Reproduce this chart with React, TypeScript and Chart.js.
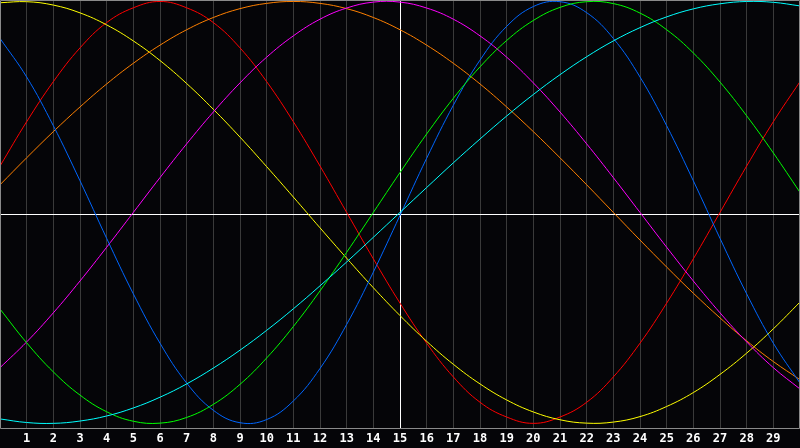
import React, { useEffect, useRef } from "react";
import { Chart, registerables } from "chart.js";

Chart.register(...registerables);

const days = [0, 1, 2, 3, 4, 5, 6, 7, 8, 9, 10, 11, 12, 13, 14, 15, 16, 17, 18, 19, 20, 21, 22, 23, 24, 25, 26, 27, 28, 29, 30];
const tickLabels = ["1", "2", "3", "4", "5", "6", "7", "8", "9", "10", "11", "12", "13", "14", "15", "16", "17", "18", "19", "20", "21", "22", "23", "24", "25", "26", "27", "28", "29"];

const redSeries = [0.22, 0.43, 0.62, 0.78, 0.90, 0.97, 1.00, 0.97, 0.90, 0.78, 0.62, 0.43, 0.22, 0.00, -0.22, -0.43, -0.62, -0.78, -0.90, -0.97, -1.00, -0.97, -0.90, -0.78, -0.62, -0.43, -0.22, 0.00, 0.22, 0.43, 0.62];
const yellowSeries = [0.994, 0.999, 0.983, 0.946, 0.889, 0.813, 0.720, 0.611, 0.489, 0.357, 0.217, 0.073, -0.073, -0.217, -0.357, -0.489, -0.611, -0.720, -0.813, -0.889, -0.946, -0.983, -0.999, -0.994, -0.968, -0.920, -0.854, -0.768, -0.667, -0.552, -0.425];
const orangeSeries = [0.131, 0.259, 0.383, 0.500, 0.609, 0.707, 0.793, 0.866, 0.924, 0.966, 0.991, 1.000, 0.991, 0.966, 0.924, 0.866, 0.793, 0.707, 0.609, 0.500, 0.383, 0.259, 0.131, 0.000, -0.131, -0.259, -0.383, -0.500, -0.609, -0.707, -0.793];
const blueSeries = [0.825, 0.642, 0.411, 0.150, -0.123, -0.386, -0.620, -0.809, -0.938, -0.997, -0.982, -0.894, -0.740, -0.531, -0.283, -0.014, 0.257, 0.508, 0.722, 0.882, 0.976, 0.999, 0.947, 0.825, 0.642, 0.411, 0.150, -0.123, -0.386, -0.620, -0.809];
const greenSeries = [-0.458, -0.618, -0.756, -0.866, -0.945, -0.990, -0.999, -0.972, -0.910, -0.815, -0.690, -0.541, -0.372, -0.189, 0.000, 0.189, 0.372, 0.541, 0.690, 0.815, 0.910, 0.972, 0.999, 0.990, 0.945, 0.866, 0.756, 0.618, 0.458, 0.282, 0.095];
const cyanSeries = [-0.979, -0.996, -1.000, -0.989, -0.965, -0.927, -0.876, -0.813, -0.738, -0.653, -0.559, -0.457, -0.348, -0.235, -0.118, 0.000, 0.118, 0.235, 0.348, 0.457, 0.559, 0.653, 0.738, 0.813, 0.876, 0.927, 0.965, 0.989, 1.000, 0.996, 0.979];
const magentaSeries = [-0.736, -0.614, -0.476, -0.325, -0.165, 0.000, 0.165, 0.325, 0.476, 0.614, 0.736, 0.837, 0.916, 0.969, 0.997, 0.997, 0.969, 0.916, 0.837, 0.736, 0.614, 0.476, 0.325, 0.165, 0.000, -0.165, -0.325, -0.476, -0.614, -0.736, -0.837];

const seriesList = [
  { name: "cyan", values: cyanSeries, color: "#00ffff" },
  { name: "green", values: greenSeries, color: "#00ff00" },
  { name: "blue", values: blueSeries, color: "#0066ff" },
  { name: "magenta", values: magentaSeries, color: "#ff00ff" },
  { name: "orange", values: orangeSeries, color: "#ff8000" },
  { name: "yellow", values: yellowSeries, color: "#ffff00" },
  { name: "red", values: redSeries, color: "#ff0000" },
];

const framePlugin = {
  id: "frame",
  beforeDraw(chart: any) {
    const { ctx, width, height } = chart;
    ctx.save();
    ctx.fillStyle = "#050508";
    ctx.fillRect(0, 0, width, height);
    ctx.restore();
  },
  beforeDatasetsDraw(chart: any) {
    const { ctx, chartArea } = chart;
    const mid = Math.round((chartArea.top + chartArea.bottom) / 2) + 0.5;
    ctx.save();
    ctx.strokeStyle = "#ffffff";
    ctx.lineWidth = 1;
    ctx.beginPath();
    ctx.moveTo(chartArea.left, mid);
    ctx.lineTo(chartArea.right, mid);
    ctx.stroke();
    ctx.restore();
  },
  afterDraw(chart: any) {
    const { ctx, chartArea } = chart;
    ctx.save();
    ctx.strokeStyle = "#8a8a8a";
    ctx.lineWidth = 1;
    ctx.beginPath();
    ctx.moveTo(chartArea.left + 0.5, chartArea.top + 0.5);
    ctx.lineTo(chartArea.right - 0.5, chartArea.top + 0.5);
    ctx.lineTo(chartArea.right - 0.5, chartArea.bottom + 0.5);
    ctx.lineTo(chartArea.left + 0.5, chartArea.bottom + 0.5);
    ctx.closePath();
    ctx.stroke();
    ctx.restore();
  },
};

export default function App() {
  const canvasRef = useRef<HTMLCanvasElement | null>(null);

  useEffect(() => {
    document.body.style.margin = "0";
    const canvas = canvasRef.current;
    if (!canvas) return;
    const chart = new Chart(canvas, {
      type: "line",
      data: {
        datasets: seriesList.map((s) => ({
          label: s.name,
          data: days.map((d, i) => ({ x: d, y: s.values[i] })),
          borderColor: s.color,
          borderWidth: 1,
          pointRadius: 0,
          pointHoverRadius: 0,
          tension: 0.4,
          fill: false,
        })),
      },
      options: {
        responsive: false,
        animation: false,
        events: [],
        layout: { padding: 0, autoPadding: false },
        plugins: {
          legend: { display: false },
          tooltip: { enabled: false },
        },
        scales: {
          x: {
            type: "linear",
            min: 0,
            max: 30,
            border: { display: false },
            afterFit: (scale: any) => {
              scale.height = 20;
              scale.paddingLeft = 0;
              scale.paddingRight = 0;
            },
            grid: {
              drawTicks: false,
              tickLength: 0,
              lineWidth: 1,
              color: (c: any) => {
                const v = c.tick ? c.tick.value : 0;
                if (v === 15) return "#ffffff";
                if (v === 0 || v === 30) return "rgba(0,0,0,0)";
                return "#3a3a3a";
              },
            },
            ticks: {
              stepSize: 1,
              autoSkip: false,
              maxRotation: 0,
              padding: 0,
              color: "#ffffff",
              font: { family: "'DejaVu Sans Mono', monospace", size: 12, weight: "bold", lineHeight: 22 / 12 },
              callback: (value: any) => {
                const v = Number(value);
                return v >= 1 && v <= 29 ? tickLabels[v - 1] : "";
              },
            },
          },
          y: {
            display: false,
            min: -1.022,
            max: 1.007,
          },
        },
      },
      plugins: [framePlugin],
    });
    return () => chart.destroy();
  }, []);

  return (
    <div style={{ position: "absolute", left: 0, top: 0, width: 800, height: 448, background: "#050508" }}>
      <canvas ref={canvasRef} width={800} height={448} style={{ display: "block", width: 800, height: 448 }} />
    </div>
  );
}
